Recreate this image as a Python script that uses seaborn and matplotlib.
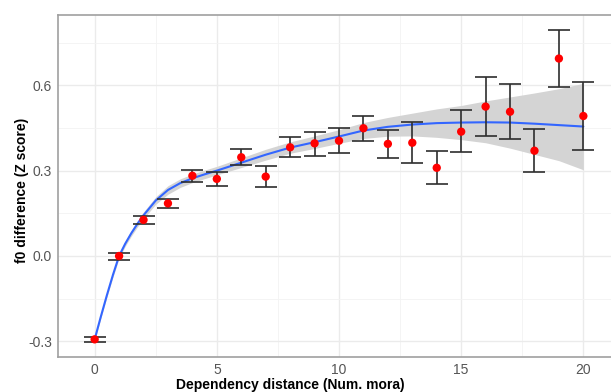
import numpy as np
import pandas as pd
import matplotlib
matplotlib.use("Agg")
import matplotlib.pyplot as plt
import seaborn as sns
from matplotlib.ticker import MultipleLocator

# ---- data ----
distance = [0, 1, 2, 3, 4, 5, 6, 7, 8, 9, 10, 11, 12, 13, 14, 15, 16, 17, 18, 19, 20]
f0_mean = [-0.293, 0.000, 0.127, 0.185, 0.282, 0.271, 0.347, 0.279, 0.382, 0.396, 0.405,
           0.449, 0.394, 0.398, 0.310, 0.437, 0.525, 0.507, 0.370, 0.694, 0.492]
f0_upper = [-0.284, 0.012, 0.142, 0.202, 0.302, 0.295, 0.375, 0.318, 0.417, 0.437, 0.449,
            0.493, 0.443, 0.470, 0.370, 0.512, 0.629, 0.606, 0.446, 0.794, 0.613]
f0_lower = [-0.301, -0.014, 0.113, 0.170, 0.261, 0.246, 0.320, 0.244, 0.349, 0.353, 0.363,
            0.405, 0.346, 0.328, 0.252, 0.365, 0.421, 0.411, 0.296, 0.593, 0.373]

# smooth fit (as drawn in the reference) and its confidence band
smooth_x = [0, 0.25, 0.5, 0.75, 1, 1.25, 1.5, 1.75, 2, 2.5, 3, 3.5, 4, 4.5, 5, 5.5, 6, 7, 8,
            9, 10, 11, 12, 13, 14, 15, 16, 17, 18, 19, 20]
smooth_y = [-0.293, -0.214, -0.138, -0.066, 0.000, 0.043, 0.080, 0.113, 0.143, 0.195, 0.232,
            0.256, 0.273, 0.287, 0.300, 0.314, 0.328, 0.356, 0.381, 0.400, 0.420, 0.441,
            0.454, 0.462, 0.467, 0.469, 0.470, 0.469, 0.465, 0.460, 0.455]
smooth_lo = [-0.298, -0.220, -0.145, -0.074, -0.008, 0.034, 0.070, 0.102, 0.131, 0.182, 0.217,
             0.241, 0.258, 0.272, 0.285, 0.298, 0.311, 0.337, 0.361, 0.378, 0.396, 0.413,
             0.421, 0.422, 0.417, 0.409, 0.398, 0.379, 0.357, 0.335, 0.303]
smooth_hi = [-0.288, -0.208, -0.131, -0.058, 0.008, 0.052, 0.090, 0.124, 0.155, 0.208, 0.247,
             0.271, 0.288, 0.302, 0.315, 0.330, 0.345, 0.375, 0.401, 0.422, 0.444, 0.469,
             0.487, 0.502, 0.517, 0.529, 0.545, 0.559, 0.573, 0.588, 0.607]

x_ticks = [0, 5, 10, 15, 20]
y_ticks = [-0.3, 0.0, 0.3, 0.6]
y_tick_labels = ["-0.3", "0.0", "0.3", "0.6"]

df = pd.DataFrame({"distance": distance, "mean": f0_mean, "upper": f0_upper, "lower": f0_lower})
sm = pd.DataFrame({"x": smooth_x, "y": smooth_y, "lo": smooth_lo, "hi": smooth_hi})

# ---- style ----
sns.set_theme(style="whitegrid")
plt.rcParams["font.family"] = ["Liberation Sans", "DejaVu Sans"]

fig = plt.figure(figsize=(6.11, 3.92), dpi=100)
ax = fig.add_axes([58 / 611, 35 / 392, 562 / 611, 342 / 392])
ax.set_facecolor("white")

# confidence band and smooth line
ax.fill_between(sm["x"], sm["lo"], sm["hi"], color="#d4d4d4", linewidth=0, zorder=2)
sns.lineplot(data=sm, x="x", y="y", ax=ax, color="#3366FF", linewidth=1.5, zorder=3,
             estimator=None, sort=False)

# error bars
ax.errorbar(df["distance"], df["mean"],
            yerr=[df["mean"] - df["lower"], df["upper"] - df["mean"]],
            fmt="none", ecolor="#2e2e2e", elinewidth=1.2, capsize=7.9, capthick=1.2, zorder=4)

# points
sns.scatterplot(data=df, x="distance", y="mean", ax=ax, color="#FF0000", s=36,
                edgecolor="none", linewidth=0, zorder=5)

# axes limits / ticks
ax.set_xlim(-1.5, 21.5)
ax.set_ylim(-0.355, 0.847)
ax.set_xticks(x_ticks)
ax.set_xticklabels([str(t) for t in x_ticks])
ax.set_yticks(y_ticks)
ax.set_yticklabels(y_tick_labels)
ax.xaxis.set_minor_locator(MultipleLocator(2.5))
ax.yaxis.set_minor_locator(MultipleLocator(0.15))

ax.grid(which="major", color="#ebebeb", linewidth=1.0, zorder=0)
ax.grid(which="minor", color="#f3f3f3", linewidth=0.6, zorder=0)
ax.set_axisbelow(True)

for s in ax.spines.values():
    s.set_visible(True)
    s.set_color("#a0a0a0")
    s.set_linewidth(1.2)

ax.tick_params(axis="both", which="major", length=2.9, width=0.8, color="#7a7a7a",
               labelcolor="#555555", labelsize=10, pad=1.5)
ax.tick_params(axis="both", which="minor", length=0)

ax.set_xlabel("Dependency distance (Num. mora)", fontsize=10, fontweight="bold",
              color="black", va="baseline")
ax.xaxis.set_label_coords((290 - 58) / 562, (357 - 389) / 342)
ax.set_ylabel("f0 difference (Z score)", fontsize=10, fontweight="bold",
              color="black", va="center")
ax.yaxis.set_label_coords((22 - 58) / 562, (357 - 190) / 342)

if ax.get_legend() is not None:
    ax.get_legend().remove()

fig.savefig("out.png", dpi=100)
